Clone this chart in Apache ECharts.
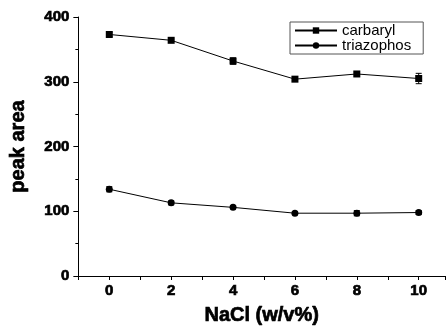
<!DOCTYPE html>
<html>
<head>
<meta charset="utf-8">
<script src="https://cdn.jsdelivr.net/npm/echarts@6/dist/echarts.min.js"></script>
<style>
  html, body { margin: 0; padding: 0; background: #fff; }
  #container { width: 448px; height: 331px; }
</style>
</head>
<body>
<div id="container"></div>
<script>
// salt concentration (w/v%)
const nacl = [0, 2, 4, 6, 8, 10];
const carbaryl = [373, 364, 332, 304, 312, 305];
const carbarylErr = [3, 2, 5, 3, 3, 8];
const triazophos = [134, 113, 106, 97, 97, 98];
const triazophosErr = [4, 3, 2, 2, 4, 3];

const FONT = 'Liberation Sans';
// heavy labels, close to the original's black weight
const heavy = { fontFamily: FONT, fontWeight: 'bold', color: '#000', textBorderColor: '#000', textBorderWidth: 0.7 };

function errorSeries(vals, errs) {
    return {
        type: 'custom',
        silent: true,
        z: 1,
        data: nacl.map((x, i) => [x, vals[i] - errs[i], vals[i] + errs[i]]),
        renderItem: function (params, api) {
            const lo = api.coord([api.value(0), api.value(1)]);
            const hi = api.coord([api.value(0), api.value(2)]);
            const w = 3;
            const st = { stroke: '#000', lineWidth: 1 };
            return {
                type: 'group',
                children: [
                    { type: 'line', shape: { x1: lo[0], y1: lo[1], x2: hi[0], y2: hi[1] }, style: st },
                    { type: 'line', shape: { x1: lo[0] - w, y1: lo[1], x2: lo[0] + w, y2: lo[1] }, style: st },
                    { type: 'line', shape: { x1: hi[0] - w, y1: hi[1], x2: hi[0] + w, y2: hi[1] }, style: st }
                ]
            };
        }
    };
}

let dom = document.getElementById('container');
let myChart = echarts.init(dom);

let option = {
    animation: false,
    backgroundColor: '#fff',
    grid: { left: 78, right: 0, top: 17, bottom: 55 },
    legend: {
        data: ['carbaryl', 'triazophos'],
        orient: 'vertical',
        left: 290,
        top: 22,
        padding: [1, 12, 1, 4],
        itemGap: 0,
        itemWidth: 42,
        itemHeight: 8,
        borderColor: '#555',
        borderWidth: 1,
        borderRadius: 0,
        textStyle: { fontFamily: FONT, fontSize: 15, color: '#000' }
    },
    xAxis: {
        type: 'value',
        min: -1,
        max: 10.85,
        interval: 1,
        name: 'NaCl (w/v%)',
        nameLocation: 'middle',
        nameGap: 29,
        nameTextStyle: Object.assign({ fontSize: 20 }, heavy),
        axisLine: { onZero: false, lineStyle: { color: '#000', width: 1 } },
        axisTick: { show: true, length: 4, lineStyle: { color: '#000' } },
        axisLabel: Object.assign({
            margin: 7,
            fontSize: 15,
            formatter: v => (v >= 0 && v % 2 === 0) ? String(v) : ''
        }, heavy),
        splitLine: { show: false }
    },
    yAxis: {
        type: 'value',
        min: 0,
        max: 400,
        interval: 100,
        name: 'peak area',
        nameLocation: 'middle',
        nameGap: 50,
        nameTextStyle: Object.assign({ fontSize: 20 }, heavy),
        axisLine: { show: true, onZero: false, lineStyle: { color: '#000', width: 1 } },
        axisTick: { show: true, length: 5, lineStyle: { color: '#000' } },
        minorTick: { show: true, splitNumber: 2, length: 3, lineStyle: { color: '#000' } },
        axisLabel: Object.assign({ margin: 9, fontSize: 15 }, heavy),
        splitLine: { show: false }
    },
    series: [
        {
            name: 'carbaryl',
            type: 'line',
            data: nacl.map((x, i) => [x, carbaryl[i]]),
            symbol: 'rect',
            symbolSize: 7,
            z: 3,
            itemStyle: { color: '#000' },
            lineStyle: { color: '#000', width: 1 }
        },
        {
            name: 'triazophos',
            type: 'line',
            data: nacl.map((x, i) => [x, triazophos[i]]),
            symbol: 'circle',
            symbolSize: 7,
            z: 3,
            itemStyle: { color: '#000' },
            lineStyle: { color: '#000', width: 1 }
        },
        errorSeries(carbaryl, carbarylErr),
        errorSeries(triazophos, triazophosErr)
    ]
};
myChart.setOption(option);
</script>
</body>
</html>
